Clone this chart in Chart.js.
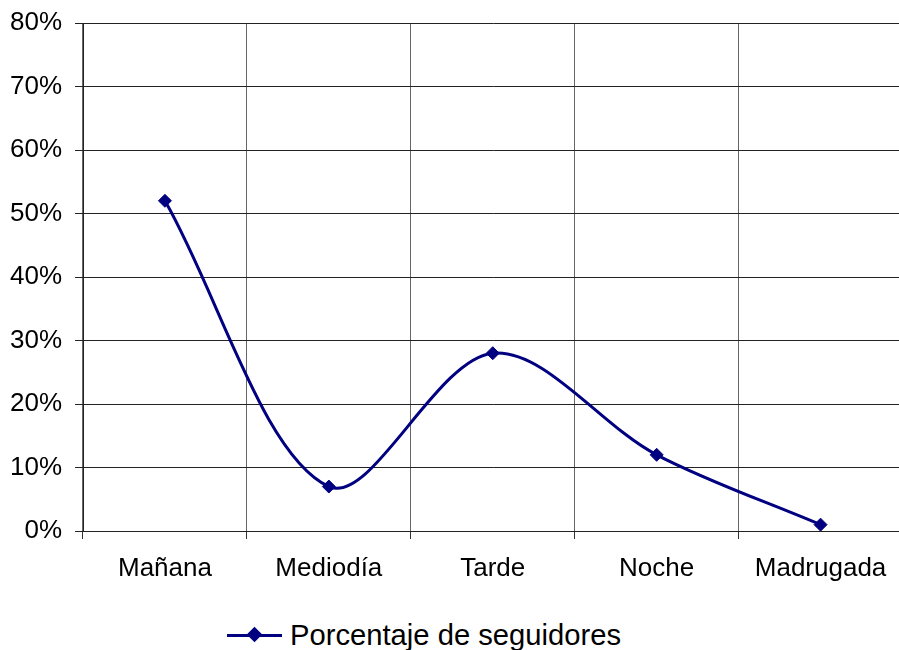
<!DOCTYPE html>
<html>
<head>
<meta charset="utf-8">
<script src="https://cdn.jsdelivr.net/npm/chart.js@4/dist/chart.umd.min.js"></script>
<style>
  html, body { margin: 0; padding: 0; background: #fff; overflow: hidden; }
  #wrap { position: relative; width: 899px; height: 650px; overflow: hidden; }
  #grafico { position: absolute; left: 0; top: 0; }
  #leyenda {
    position: absolute; left: 227px; top: 617px; height: 36px;
    display: flex; align-items: center;
    font-family: "Liberation Sans", Arial, sans-serif; font-size: 29.2px; color: #000;
  }
  #leyenda .linea { position: relative; width: 55px; height: 3px; background: #000080; margin-right: 8px; }
  #leyenda .rombo {
    position: absolute; left: 22px; top: -5px; width: 11px; height: 11px;
    background: #000080; transform: rotate(45deg);
  }
</style>
</head>
<body>
<div id="wrap">
  <canvas id="grafico" width="910" height="600" style="width:910px;height:600px"></canvas>
  <div id="leyenda"><span class="linea"><span class="rombo"></span></span><span id="leyenda_texto"></span></div>
</div>
<script>
// datos del grafico
const franjas = ["Mañana", "Mediodía", "Tarde", "Noche", "Madrugada"];
const porcentajes = [52, 7, 28, 12, 1];
const nombreSerie = "Porcentaje de seguidores";
const ticksY = [0, 10, 20, 30, 40, 50, 60, 70, 80];

document.getElementById("leyenda_texto").textContent = nombreSerie;

const fuente = { family: "'Liberation Sans', Arial, sans-serif", size: 26 };

let ctx = document.getElementById("grafico").getContext("2d");
new Chart(ctx, {
  type: "line",
  data: {
    labels: franjas,
    datasets: [
      {
        label: nombreSerie,
        data: porcentajes,
        borderColor: "#000080",
        backgroundColor: "#000080",
        borderWidth: 3,
        tension: 0.33,
        pointStyle: "rectRot",
        pointRadius: 6.5,
        pointBorderWidth: 1,
        pointBackgroundColor: "#000080",
        pointBorderColor: "#000080",
      },
    ],
  },
  options: {
    responsive: false,
    animation: false,
    devicePixelRatio: 1,
    layout: { padding: { top: 23, right: 7, left: 0, bottom: 0 } },
    plugins: {
      legend: { display: false },
      tooltip: { enabled: false },
    },
    scales: {
      x: {
        offset: true,
        grid: {
          offset: true,
          color: "#666",
          lineWidth: 1,
          tickLength: 8,
          tickColor: "#333",
        },
        border: { color: "#222", width: 1 },
        ticks: { color: "#000", font: fuente, padding: 14, maxRotation: 0, autoSkip: false },
        afterFit: function (scale) {
          scale.height = 69;
        },
      },
      y: {
        min: 0,
        max: 80,
        afterBuildTicks: function (scale) {
          scale.ticks = ticksY.map((v) => ({ value: v }));
        },
        grid: { color: "#222", lineWidth: 1, tickLength: 8, tickColor: "#222" },
        border: { color: "#222", width: 1 },
        ticks: {
          color: "#000",
          font: fuente,
          padding: 13,
          callback: function (v) {
            return v + "%";
          },
        },
        afterFit: function (scale) {
          scale.width = 83;
          scale.paddingTop = 0;
          scale.paddingBottom = 0;
        },
      },
    },
  },
});
</script>
</body>
</html>
